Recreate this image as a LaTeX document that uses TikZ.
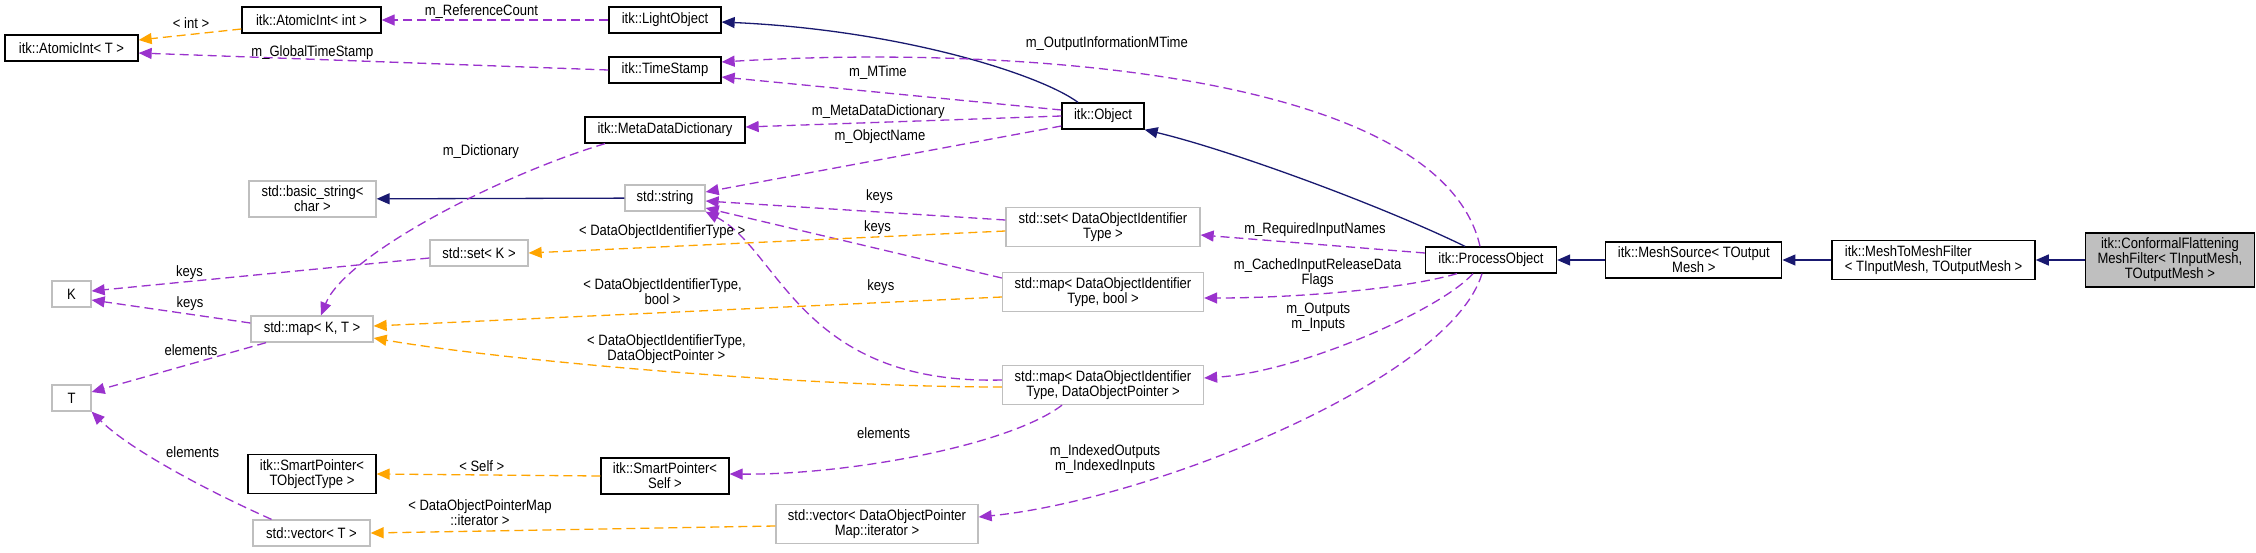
\documentclass[tikz,border=0pt]{standalone}
\usepackage{fontspec}
\setmainfont{Liberation Sans}[FakeStretch=0.87]
\usepackage{tikz}
\usetikzlibrary{positioning,arrows.meta}
\definecolor{dxnavy}{HTML}{191970}
\definecolor{dxpurple}{HTML}{9A32CD}
\definecolor{dxorange}{HTML}{FFA500}
\definecolor{dxgrey}{HTML}{BFBFBF}

\begin{document}
\begin{tikzpicture}[
  x=1pt, y=-1pt,
  font=\fontsize{15}{15}\selectfont,
  cls/.style={draw=black,fill=white,line width=1.3pt,align=center,
              inner xsep=4pt,inner ysep=5pt,minimum height=26pt},
  ext/.style={cls,draw=dxgrey},
  focus/.style={cls,fill=dxgrey},
  dxtip/.style={-{Triangle[length=13pt,width=11pt]}},
  inh/.style={dxtip,dxnavy,line width=1.3pt},
  member/.style={dxtip,dxpurple,line width=1.3pt,dash pattern=on 9pt off 5pt},
  tmpl/.style={member,dxorange},
  lbl/.style={font=\fontsize{15}{15}\selectfont,text=black,align=center,inner sep=0pt}]

  \path[use as bounding box,fill=white] (0,0) rectangle (2256,552);

  % classes
  \node[cls,minimum width=133pt] (atomicT) at (71.5,48) {itk::AtomicInt< T >};
  \node[cls,minimum width=139pt] (atomicInt) at (311.5,20) {itk::AtomicInt< int >};
  \node[cls,minimum width=112pt] (lightobj) at (665,20) {itk::LightObject};
  \node[cls,minimum width=112pt] (timestamp) at (665,70) {itk::TimeStamp};
  \node[cls,minimum width=160pt] (metadict) at (665,130) {itk::MetaDataDictionary};
  \node[cls,minimum width=82pt] (object) at (1103,116) {itk::Object};
  \node[ext,minimum width=127pt] (basicstr) at (312.5,199) {std::basic\_string<\\char >};
  \node[ext,minimum width=80pt] (stdstring) at (665,198) {std::string};
  \node[ext,minimum width=98pt] (setK) at (479,253) {std::set< K >};
  \node[ext,minimum width=39pt] (K) at (71.5,294) {K};
  \node[ext,minimum width=122pt] (mapKT) at (312,329) {std::map< K, T >};
  \node[ext,minimum width=39pt] (T) at (71.5,398) {T};
  \node[cls,minimum width=128pt] (spObj) at (312,474) {itk::SmartPointer<\\TObjectType >};
  \node[cls,minimum width=128pt] (spSelf) at (665,476) {itk::SmartPointer<\\Self >};
  \node[ext,minimum width=117pt] (vecT) at (311.5,533) {std::vector< T >};
  \node[ext,minimum width=194pt] (setDOI) at (1103,227) {std::set< DataObjectIdentifier\\Type >};
  \node[ext,minimum width=201pt] (mapBool) at (1103,292) {std::map< DataObjectIdentifier\\Type, bool >};
  \node[ext,minimum width=201pt] (mapDOP) at (1103,385) {std::map< DataObjectIdentifier\\Type, DataObjectPointer >};
  \node[ext,minimum width=202pt] (vecDOP) at (877,524) {std::vector< DataObjectPointer\\Map::iterator >};
  \node[cls,minimum width=131pt] (procobj) at (1491,260) {itk::ProcessObject};
  \node[cls,minimum width=176pt,right=48pt of procobj] (meshsrc) {itk::MeshSource< TOutput\\Mesh >};
  \node[cls,minimum width=203pt,align=left,right=49pt of meshsrc] (m2m) {itk::MeshToMeshFilter\\< TInputMesh, TOutputMesh >};
  \node[focus,minimum width=169pt,right=49pt of m2m] (conformal) {itk::ConformalFlattening\\MeshFilter< TInputMesh,\\TOutputMesh >};

  % inheritance
  \draw[inh] ([xshift=-25pt]object.north) .. controls +(-38,-28) and +(179,8) .. ([yshift=-2pt]lightobj.east);
  \draw[inh] ([xshift=-26pt]procobj.north) .. controls (1380,205) and (1230,150) .. (object.south east);
  \draw[inh] (stdstring) -- (basicstr);
  \draw[inh] (meshsrc) -- (procobj);
  \draw[inh] (m2m) -- (meshsrc);
  \draw[inh] (conformal) -- (m2m);

  % members
  \draw[member] (lightobj.west) -- (atomicInt.east) node[lbl,pos=0.56,yshift=8pt] {m\_ReferenceCount};
  \draw[member] (timestamp.west) -- ([yshift=-5pt]atomicT.east) node[lbl,pos=0.63,yshift=7pt] {m\_GlobalTimeStamp};
  \draw[member] ([yshift=6pt]object.west) -- ([yshift=-7pt]timestamp.east) node[lbl,pos=0.54,yshift=20pt] {m\_MTime};
  \draw[member] ([xshift=-11pt]procobj.north) .. controls (1440,70) and (1000,45) .. ([yshift=8pt]timestamp.east)
    node[lbl,pos=0.59,yshift=26pt] {m\_OutputInformationMTime};
  \draw[member] (object.west) -- ([yshift=3pt]metadict.east) node[lbl,pos=0.58,yshift=11pt] {m\_MetaDataDictionary};
  \draw[member] ([yshift=-10pt]object.west) -- ([yshift=6pt]stdstring.east) node[lbl,pos=0.51,yshift=23pt] {m\_ObjectName};
  \draw[member] ([xshift=-60pt]metadict.south) .. controls (500,175) and (345,255) .. ([xshift=9pt]mapKT.north)
    node[lbl,pos=0.3,xshift=-21pt,yshift=32pt] {m\_Dictionary};
  \draw[member] ([yshift=7pt]setDOI.west) -- ([yshift=-3pt]stdstring.east) node[lbl,pos=0.42,yshift=15pt] {keys};
  \draw[member] ([yshift=14pt]mapBool.west) -- ([yshift=-10pt]stdstring.east) node[lbl,pos=0.42,yshift=21pt] {keys};
  \draw[member] ([yshift=5pt]mapDOP.west) .. controls (800,385) and (780,250) .. (stdstring.south east)
    node[lbl,pos=0.25,yshift=75pt] {keys};
  \draw[member] ([yshift=7pt]procobj.west) -- ([yshift=-8pt]setDOI.east) node[lbl,pos=0.49,yshift=15pt] {m\_RequiredInputNames};
  \draw[member] ([xshift=-34pt]procobj.south) .. controls (1400,290) and (1290,298) .. ([yshift=-6pt]mapBool.east)
    node[lbl,pos=0.55,xshift=-10pt,yshift=20pt] {m\_CachedInputReleaseData\\Flags};
  \draw[member] ([xshift=-18pt]procobj.south) .. controls (1440,310) and (1300,372) .. ([yshift=7pt]mapDOP.east)
    node[lbl,pos=0.62,xshift=-6pt,yshift=34pt] {m\_Outputs\\m\_Inputs};
  \draw[member] ([xshift=-9pt]procobj.south) .. controls (1450,380) and (1150,500) .. ([yshift=7pt]vecDOP.east)
    node[lbl,pos=0.75,xshift=-20pt,yshift=28pt] {m\_IndexedOutputs\\m\_IndexedInputs};
  \draw[member] ([yshift=-5pt]setK.west) -- ([yshift=3pt]K.east) node[lbl,pos=0.71,yshift=9pt] {keys};
  \draw[member] ([yshift=6pt]mapKT.west) -- ([yshift=-6pt]K.east) node[lbl,pos=0.38,yshift=11pt] {keys};
  \draw[member] ([xshift=-46pt]mapKT.south) -- ([yshift=6pt]T.east) node[lbl,pos=0.43,yshift=14pt] {elements};
  \draw[member] ([xshift=-40pt]vecT.north) .. controls (210,492) and (130,450) .. (T.south east)
    node[lbl,pos=0.4,yshift=29pt] {elements};
  \draw[member] ([xshift=-41pt]mapDOP.south) .. controls (1010,445) and (850,475) .. ([yshift=2pt]spSelf.east)
    node[lbl,pos=0.6,yshift=29pt] {elements};

  % template instances
  \draw[tmpl] ([yshift=-9pt]atomicInt.west) -- ([yshift=8pt]atomicT.east) node[lbl,pos=0.49,yshift=11pt] {< int >};
  \draw[tmpl] ([yshift=-4pt]setDOI.west) -- (setK.east) node[lbl,pos=0.72,yshift=15pt] {< DataObjectIdentifierType >};
  \draw[tmpl] ([yshift=-5pt]mapBool.west) -- ([yshift=3pt]mapKT.east)
    node[lbl,pos=0.54,yshift=21pt] {< DataObjectIdentifierType,\\bool >};
  \draw[tmpl] ([yshift=-2pt]mapDOP.west) .. controls (800,387) and (500,360) .. ([yshift=-9pt]mapKT.east)
    node[lbl,pos=0.49,yshift=22pt] {< DataObjectIdentifierType,\\DataObjectPointer >};
  \draw[tmpl] (spSelf.west) -- (spObj.east) node[lbl,pos=0.53,yshift=9pt] {< Self >};
  \draw[tmpl] ([yshift=-2pt]vecDOP.west) -- (vecT.east)
    node[lbl,pos=0.73,yshift=18pt] {< DataObjectPointerMap\\::iterator >};
\end{tikzpicture}
\end{document}
